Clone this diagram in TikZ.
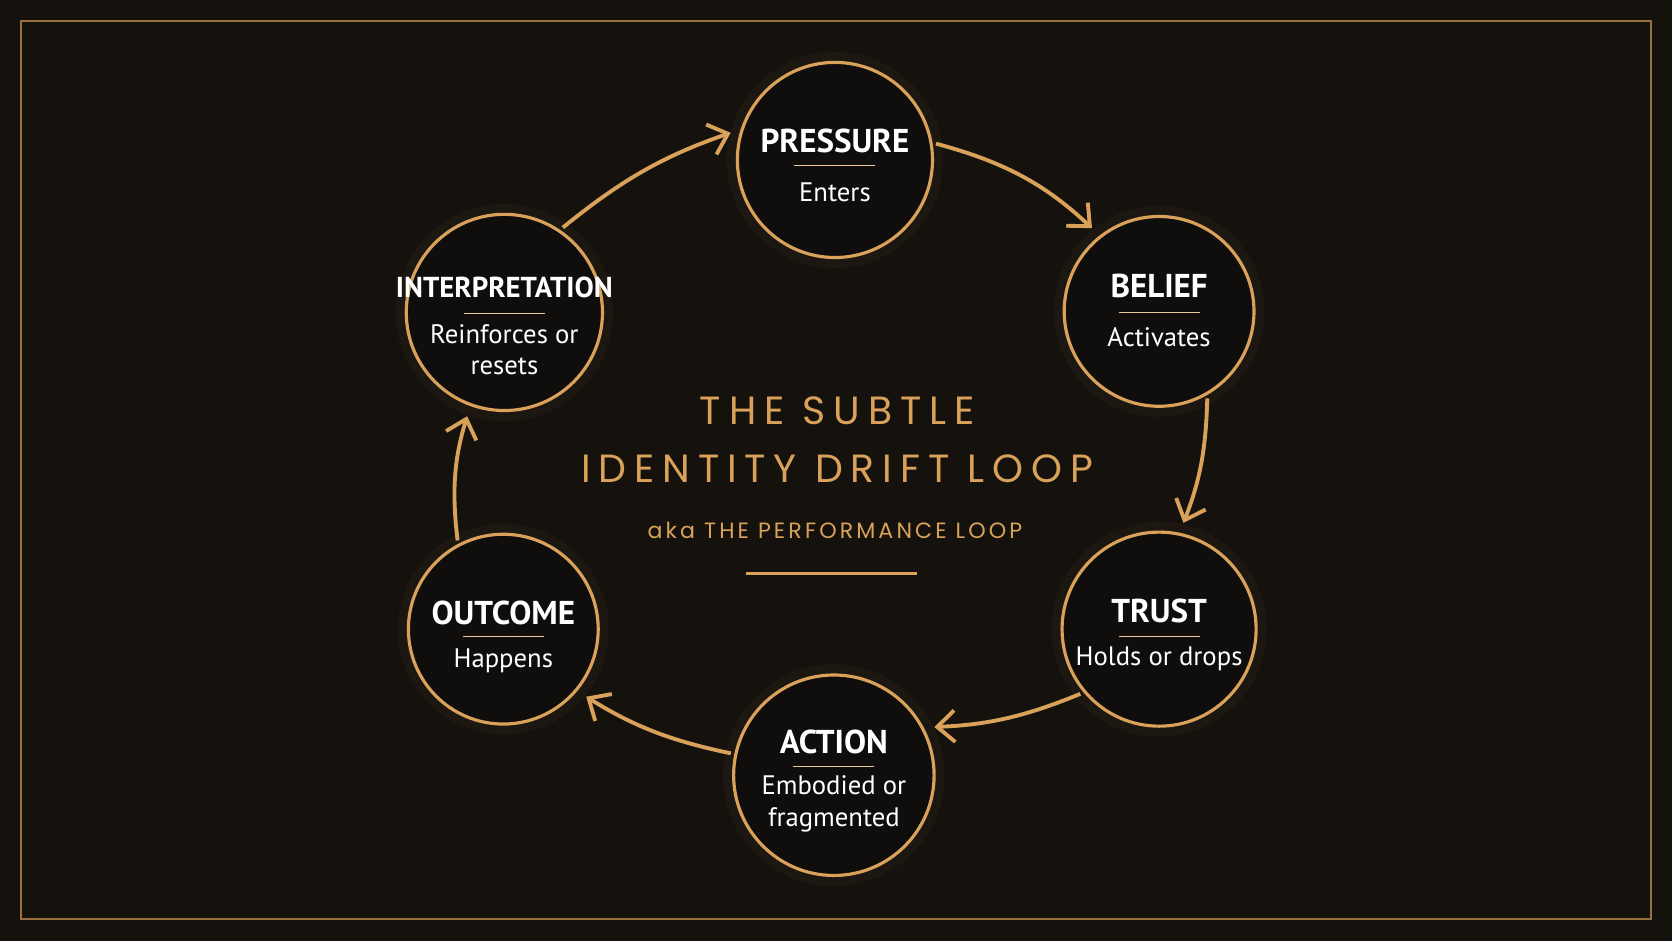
\documentclass[tikz,border=0pt]{standalone}
\usepackage{fontspec}
\setmainfont{PT Sans}
\newfontfamily\titlefont[LetterSpace=20]{Poppins}
\newfontfamily\akafont[LetterSpace=14]{Poppins}
\usetikzlibrary{arrows.meta}
\usetikzlibrary{positioning}
\definecolor{bgdark}{HTML}{15120E}
\definecolor{gold}{HTML}{D9A15A}
\definecolor{stagefill}{HTML}{0F0E0D}

\begin{document}
\begin{tikzpicture}
	[
	x=0.01066cm, y=-0.01066cm,
	> = {Straight Barb[length=5pt,width=9pt]},
	stage/.style = {circle, draw=gold, line width=0.9pt, fill=stagefill, minimum size=#1, inner sep=0pt},
	glow/.style = {circle, fill=gold, opacity=0.04, minimum size=#1, inner sep=0pt},
	head/.style = {text=white, font=\bfseries\fontsize{9.4}{10}\selectfont},
	sub/.style = {text=white, font=\fontsize{7.6}{9}\selectfont, align=center},
	flow/.style = {->, draw=gold, line width=1.1pt, shorten >=3pt, shorten <=1pt}
	]

	\fill[bgdark] (0,0) rectangle (1568,882.5);
	\draw[gold!70!black, line width=0.6pt] (20,20) rectangle (1548,862);

	% stages (name, x, y, diameter, separator y)
	\foreach \name/\x/\y/\r/\s in {pressure/783/150/183/155, belief/1087/292/178/293, trust/1087/590/182/597,
	                            action/782/727/188/719, outcome/472/590/178/597, interp/473/293/184/294}
	{
		\node[glow=\r*0.01066cm+6pt] at (\x,\y) {};
		\node[stage=\r*0.01066cm] (\name) at (\x,\y) {};
		\draw[gold!60, line width=0.4pt] (\x-38,\s) -- (\x+38,\s);
	}

	\node[head] at (783,132) {PRESSURE};
	\node[sub] at (783,180) {Enters};
	\node[head] at (1087,268) {BELIEF};
	\node[sub] at (1087,316) {Activates};
	\node[head] at (1087,573) {TRUST};
	\node[sub] at (1087,618) {Holds or drops};
	\node[head] at (782,696) {ACTION};
	\node[sub] at (782,754) {Embodied or\\fragmented};
	\node[head] at (472,575) {OUTCOME};
	\node[sub] at (472,620) {Happens};
	\node[head, font=\bfseries\fontsize{8.2}{9}\selectfont] at (473,270) {INTERPRETATION};
	\node[sub] at (473,328) {Reinforces or\\resets};

	% connectors
	\draw[flow] (pressure.10) to[bend left=14] (belief.128);
	\draw[flow] (belief.-60) to[bend left=10] (trust.78);
	\draw[flow] (trust.-140) to[bend left=10] (action.28);
	\draw[flow] (action.168) to[bend left=10] (outcome.-40);
	\draw[flow] (outcome.118) to[bend left=12] (interp.-110);
	\draw[flow] (interp.56) to[bend left=10] (pressure.162);

	% title
	\node[text=gold, font=\titlefont\fontsize{11.2}{13}\selectfont] (title1) at (785,385) {THE SUBTLE};
	\node[text=gold, font=\titlefont\fontsize{11.2}{13}\selectfont] (title2) at (785,440) {IDENTITY DRIFT LOOP};
	\node[text=gold, font=\akafont\fontsize{6.3}{8}\selectfont] (aka) at (783,497) {aka THE PERFORMANCE LOOP};
	\draw[gold, line width=0.7pt] (700,538) -- (860,538);
\end{tikzpicture}
\end{document}
